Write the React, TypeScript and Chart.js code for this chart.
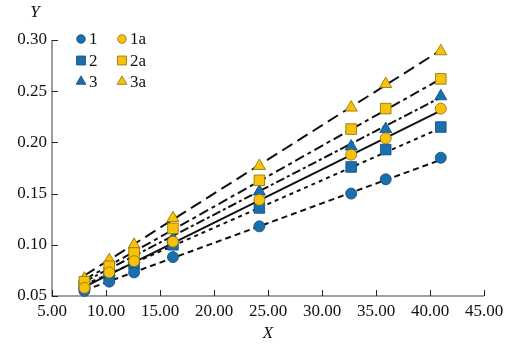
import React, { useEffect, useRef } from 'react';
import { Chart, registerables } from 'chart.js';
import { drawPoint } from 'chart.js/helpers';
Chart.register(...registerables);

// ---- data ----
const xValues = [8.0, 10.3, 12.6, 16.2, 24.2, 32.7, 35.9, 41.0];
const series1 = [0.055, 0.064, 0.073, 0.088, 0.118, 0.150, 0.164, 0.185];
const series2 = [0.060, 0.070, 0.081, 0.100, 0.136, 0.176, 0.193, 0.215];
const series3 = [0.061, 0.073, 0.086, 0.106, 0.152, 0.196, 0.213, 0.245];
const series1a = [0.058, 0.073, 0.084, 0.103, 0.144, 0.188, 0.204, 0.233];
const series2a = [0.064, 0.079, 0.092, 0.116, 0.163, 0.213, 0.233, 0.262];
const series3a = [0.067, 0.085, 0.100, 0.126, 0.177, 0.234, 0.257, 0.289];

const fitX = [8.0, 41.0];
const fit1 = [0.0555, 0.183];
const fit2 = [0.061, 0.214];
const fit3 = [0.064, 0.244];
const fit1a = [0.059, 0.231];
const fit2a = [0.066, 0.262];
const fit3a = [0.070, 0.290];

const seriesLabels = ['1', '2', '3', '1a', '2a', '3a'];
const xTicks = [5, 10, 15, 20, 25, 30, 35, 40, 45];
const yTicks = [0.05, 0.1, 0.15, 0.2, 0.25, 0.3];

const BLUE = '#1a6fae';
const BLUE_B = '#0c4a7c';
const YEL = '#f9c20a';
const YEL_B = '#8a6d00';
const FONT = '"Liberation Serif", "Times New Roman", serif';

const pts = (ys: number[]) => ys.map((y, i) => ({ x: xValues[i], y }));
const fit = (ys: number[]) => ys.map((y, i) => ({ x: fitX[i], y }));

const markerDefs = [
  { label: seriesLabels[0], data: series1, style: 'circle', r: 5.5, fill: BLUE, border: BLUE_B, order: 2 },
  { label: seriesLabels[1], data: series2, style: 'rect', r: 7.5, fill: BLUE, border: BLUE_B, order: 2 },
  { label: seriesLabels[2], data: series3, style: 'triangle', r: 7, fill: BLUE, border: BLUE_B, order: 2 },
  { label: seriesLabels[3], data: series1a, style: 'circle', r: 5.5, fill: YEL, border: YEL_B, order: 1 },
  { label: seriesLabels[4], data: series2a, style: 'rect', r: 7.5, fill: YEL, border: YEL_B, order: 1 },
  { label: seriesLabels[5], data: series3a, style: 'triangle', r: 7, fill: YEL, border: YEL_B, order: 1 },
];

const lineDefs = [
  { data: fit1, dash: [6, 4] },
  { data: fit2, dash: [4, 4] },
  { data: fit3, dash: [9, 3, 3, 3] },
  { data: fit1a, dash: [] as number[] },
  { data: fit2a, dash: [10, 4, 4, 4] },
  { data: fit3a, dash: [12, 6] },
];

const decor = {
  id: 'decor',
  beforeDatasetsDraw(chart: any) {
    const { ctx, chartArea: a, scales } = chart;
    const x = scales.x, y = scales.y;
    ctx.save();
    ctx.strokeStyle = '#808080';
    ctx.lineWidth = 1.5;
    ctx.beginPath();
    ctx.moveTo(a.left, a.top);
    ctx.lineTo(a.left, a.bottom);
    ctx.lineTo(a.right, a.bottom);
    ctx.stroke();
    ctx.strokeStyle = '#222';
    ctx.lineWidth = 1;
    xTicks.forEach((v) => {
      const px = Math.round(x.getPixelForValue(v)) + 0.5;
      ctx.beginPath();
      ctx.moveTo(px, a.bottom);
      ctx.lineTo(px, a.bottom - 6);
      ctx.stroke();
    });
    yTicks.forEach((v) => {
      const py = Math.round(y.getPixelForValue(v)) + 0.5;
      ctx.beginPath();
      ctx.moveTo(a.left, py);
      ctx.lineTo(a.left + 6, py);
      ctx.stroke();
    });
    ctx.restore();
  },
  afterDraw(chart: any) {
    const { ctx, chartArea: a } = chart;
    ctx.save();
    ctx.fillStyle = '#111';
    ctx.font = `italic 17px ${FONT}`;
    ctx.textAlign = 'center';
    ctx.textBaseline = 'middle';
    ctx.fillText('Y', a.left - 17, a.top - 27);
    ctx.fillText('X', (a.left + a.right) / 2, 334);
    // legend
    ctx.font = `17px ${FONT}`;
    ctx.textAlign = 'left';
    const colX = [a.left + 29, a.left + 70];
    const rowY = [a.top - 1, a.top + 20.5, a.top + 41.5];
    markerDefs.forEach((m, i) => {
      const col = i < 3 ? 0 : 1;
      const row = i % 3;
      const cx = colX[col];
      const cy = rowY[row];
      ctx.fillStyle = m.fill;
      ctx.strokeStyle = m.border;
      ctx.lineWidth = 0.8;
      const rr = m.style === 'circle' ? 4.3 : m.style === 'rect' ? 6.3 : 5.6;
      drawPoint(ctx, { pointStyle: m.style, radius: rr, rotation: 0, borderWidth: 0.8 } as any, cx, cy);
      ctx.fillStyle = '#111';
      ctx.fillText(m.label, cx + 8, cy + 1);
    });
    ctx.restore();
  },
};

export default function App() {
  const ref = useRef<HTMLCanvasElement>(null);
  useEffect(() => {
    if (!ref.current) return;
    const datasets: any[] = [];
    markerDefs.forEach((m) => {
      datasets.push({
        type: 'scatter',
        label: m.label,
        data: pts(m.data),
        pointStyle: m.style,
        pointRadius: m.r,
        pointBackgroundColor: m.fill,
        pointBorderColor: m.border,
        pointBorderWidth: 0.8,
        showLine: false,
        order: m.order,
        clip: false,
      });
    });
    lineDefs.forEach((l, i) => {
      datasets.push({
        type: 'line',
        label: 'fit ' + seriesLabels[i],
        data: fit(l.data),
        borderColor: '#111',
        borderWidth: 2,
        borderDash: l.dash,
        pointRadius: 0,
        fill: false,
        order: 3,
        clip: false,
      });
    });
    const chart = new Chart(ref.current, {
      type: 'scatter',
      data: { datasets },
      plugins: [decor],
      options: {
        animation: false,
        responsive: false,
        maintainAspectRatio: false,
        layout: { padding: { left: 0, top: 40, right: 36, bottom: 0 } },
        plugins: { legend: { display: false }, tooltip: { enabled: false }, title: { display: false } },
        scales: {
          x: {
            type: 'linear',
            min: 5,
            max: 45,
            afterFit: (s: any) => { s.height = 66; },
            afterBuildTicks: (s: any) => { s.ticks = xTicks.map((v) => ({ value: v })); },
            grid: { display: false, drawTicks: false },
            border: { display: false },
            ticks: {
              padding: 5,
              color: '#111',
              font: { family: FONT, size: 17 },
              callback: (v: any) => Number(v).toFixed(2),
              maxRotation: 0,
              autoSkip: false,
            },
          },
          y: {
            type: 'linear',
            min: 0.05,
            max: 0.3,
            afterFit: (s: any) => { s.width = 52; },
            afterBuildTicks: (s: any) => { s.ticks = yTicks.map((v) => ({ value: v })); },
            grid: { display: false, drawTicks: false },
            border: { display: false },
            ticks: {
              padding: 5,
              color: '#111',
              font: { family: FONT, size: 17 },
              callback: (v: any) => Number(v).toFixed(2),
              autoSkip: false,
            },
          },
        },
      },
    });
    return () => chart.destroy();
  }, []);
  return (
    <div style={{ position: 'fixed', left: 0, top: 0, width: 520, height: 362, background: '#fff' }}>
      <canvas ref={ref} width={520} height={362} style={{ width: 520, height: 362 }} />
    </div>
  );
}
